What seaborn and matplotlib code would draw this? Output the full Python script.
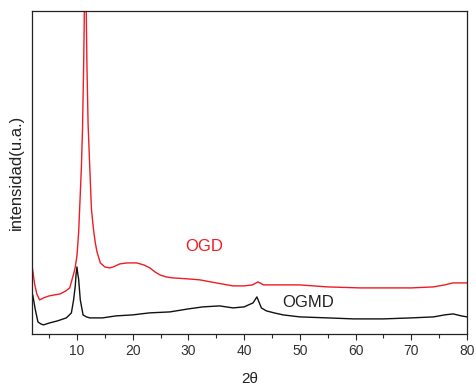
import matplotlib
matplotlib.use("Agg")
import matplotlib.pyplot as plt
import seaborn as sns
import pandas as pd
from matplotlib.ticker import MultipleLocator

# --- data (2theta, intensity a.u.) ---
ogd_2theta = [2.0, 2.4, 2.8, 3.3, 4.0, 5.0, 6.0, 7.0, 8.0, 8.7, 9.1, 9.5, 9.7, 10.0,
              10.3, 10.6, 10.8, 11.0, 11.2, 11.35, 11.5, 11.65, 11.8, 12.0, 12.3,
              12.6, 13.0, 13.3, 13.6, 14.2, 15.0, 15.9, 16.5, 17.7, 19.0, 20.7,
              22.0, 23.1, 24.0, 24.9, 26.0, 27.2, 30.0, 32.1, 35.0, 38.0, 40.0,
              41.5, 42.5, 43.5, 45.0, 50.0, 55.0, 60.8, 65.0, 70.0, 74.0, 76.0,
              77.5, 80.0]
ogd_int = [66, 50, 40, 34, 36, 38, 39, 40, 43, 46, 54, 62, 67, 78,
           101, 140, 167, 205, 267, 330, 600, 330, 267, 210, 167,
           125, 103, 91, 82, 71, 67, 66, 67, 70, 71, 71,
           69, 66, 62, 59, 57, 56, 55, 54, 51, 48, 48,
           49, 52, 49, 49, 49, 47, 46, 46, 46, 47, 49,
           51, 51]

ogmd_2theta = [2.0, 2.1, 2.5, 3.0, 3.5, 4.0, 5.1, 6.5, 8.1, 9.0, 9.4, 9.7, 9.85,
               10.0, 10.15, 10.3, 10.6, 11.1, 11.7, 12.3, 14.1, 14.6, 17.0, 20.0,
               23.0, 26.7, 30.0, 32.6, 35.6, 38.0, 40.0, 41.6, 42.3, 43.1, 44.0,
               45.4, 47.0, 50.0, 55.0, 59.6, 65.0, 70.0, 74.0, 76.0, 77.5, 79.0,
               80.0]
ogmd_int = [40, 38, 25, 12, 10, 9, 11, 13, 16, 21, 34, 48, 60,
            67, 60, 55, 34, 19, 17, 16, 16, 16, 18, 19,
            21, 22, 25, 27, 28, 26, 27, 31, 37, 26, 23,
            21, 19, 17, 16, 15, 15, 16, 17, 19, 20, 18,
            17]

series_names = ["OGD", "OGMD"]
x_ticks = [10, 20, 30, 40, 50, 60, 70, 80]

df = pd.concat([
    pd.DataFrame({"2theta": ogd_2theta, "int": ogd_int, "sample": series_names[0]}),
    pd.DataFrame({"2theta": ogmd_2theta, "int": ogmd_int, "sample": series_names[1]}),
])

sns.set_style("ticks")
plt.rcParams["font.family"] = ["Liberation Sans", "DejaVu Sans"]

fig = plt.figure(figsize=(4.76, 3.86), dpi=100)
ax = fig.add_axes([0.068, 0.135, 0.913, 0.8365])

sns.lineplot(data=df, x="2theta", y="int", hue="sample", estimator=None, sort=False,
             palette={"OGD": "#ee1c24", "OGMD": "#111111"}, linewidth=1.0,
             legend=False, ax=ax)

ax.set_xlim(2, 80)
ax.set_ylim(0, 323)
ax.set_xticks(x_ticks)
ax.xaxis.set_minor_locator(MultipleLocator(5))
ax.set_yticks([])
ax.tick_params(axis="x", which="major", direction="out", length=4.5, width=0.8,
               labelsize=10, labelcolor="#333333", pad=3, top=False)
ax.tick_params(axis="x", which="minor", direction="out", length=2.8, width=0.8, top=False)
for s in ax.spines.values():
    s.set_visible(True)
    s.set_linewidth(0.9)
    s.set_color("#222222")

ax.set_xlabel("2θ", fontsize=11, color="#222222", labelpad=10)
ax.set_ylabel("intensidad(u.a.)", fontsize=12, color="#222222", labelpad=6)

ax.text(29.4, 87, "OGD", color="#ee1c24", fontsize=12, va="center", ha="left")
ax.text(46.9, 31, "OGMD", color="#222222", fontsize=12, va="center", ha="left")

fig.savefig("out.png", dpi=100)
